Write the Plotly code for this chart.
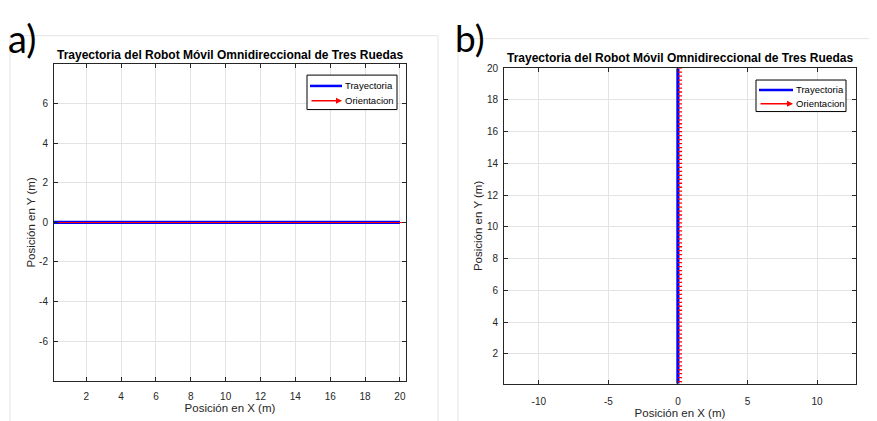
import math
import plotly.graph_objects as go

# ---------------- data ----------------
# panel a) straight path along X (y = 0), orientation 0 rad
traj_a_x = [0, 0.25, 0.5, 0.75, 1, 1.25, 1.5, 1.75, 2, 2.25, 2.5, 2.75, 3, 3.25, 3.5, 3.75,
            4, 4.25, 4.5, 4.75, 5, 5.25, 5.5, 5.75, 6, 6.25, 6.5, 6.75, 7, 7.25, 7.5, 7.75,
            8, 8.25, 8.5, 8.75, 9, 9.25, 9.5, 9.75, 10, 10.25, 10.5, 10.75, 11, 11.25, 11.5,
            11.75, 12, 12.25, 12.5, 12.75, 13, 13.25, 13.5, 13.75, 14, 14.25, 14.5, 14.75,
            15, 15.25, 15.5, 15.75, 16, 16.25, 16.5, 16.75, 17, 17.25, 17.5, 17.75, 18,
            18.25, 18.5, 18.75, 19, 19.25, 19.5, 19.75, 20]
traj_a_y = [0] * len(traj_a_x)
# panel b) straight path along Y (x = 0), orientation 0 rad
traj_b_y = list(traj_a_x)
traj_b_x = [0] * len(traj_b_y)
theta_deg = 0          # orientation of the robot along the path
arrow_len = 0.3        # quiver arrow length (m)

title_text = "Trayectoria del Robot Móvil Omnidireccional de Tres Ruedas"
xlabel = "Posición en X (m)"
ylabel = "Posición en Y (m)"
legend_labels = ["Trayectoria", "Orientacion"]
a_xticks = [2, 4, 6, 8, 10, 12, 14, 16, 18, 20]
a_yticks = [-6, -4, -2, 0, 2, 4, 6]
b_xticks = [-10, -5, 0, 5, 10]
b_yticks = [2, 4, 6, 8, 10, 12, 14, 16, 18, 20]


# ---------------- build ----------------
def quiver(xs, ys, ang, L):
    qx, qy = [], []
    for x, y in zip(xs, ys):
        qx += [x, x + L * math.cos(math.radians(ang)), None]
        qy += [y, y + L * math.sin(math.radians(ang)), None]
    return qx, qy


def lbl(v):
    return str(v).replace("\u2212", "-")


OFF = 8                      # browser body margin
W, H = 877 - OFF, 421 - OFF
BLUE = "#0000ff"
RED = "#ff0000"
FONT = "Liberation Sans, Arial, sans-serif"
TXT = "#262626"


def px(x):
    return (x - OFF) / W


def py(y):
    return 1 - (y - OFF) / H


fig = go.Figure()
qax, qay = quiver(traj_a_x, traj_a_y, theta_deg, arrow_len)
qbx, qby = quiver(traj_b_x, traj_b_y, theta_deg, arrow_len)

fig.add_trace(go.Scatter(x=traj_a_x, y=traj_a_y, mode="lines", name=legend_labels[0],
                         line=dict(color=BLUE, width=3.2), xaxis="x", yaxis="y"))
fig.add_trace(go.Scatter(x=qax, y=qay, mode="lines", name=legend_labels[1],
                         line=dict(color=RED, width=1.1), xaxis="x", yaxis="y"))
fig.add_trace(go.Scatter(x=traj_b_x, y=traj_b_y, mode="lines", name=legend_labels[0],
                         line=dict(color=BLUE, width=3.2), xaxis="x2", yaxis="y2"))
fig.add_trace(go.Scatter(x=qbx, y=qby, mode="lines", name=legend_labels[1],
                         line=dict(color=RED, width=1.3), xaxis="x2", yaxis="y2"))

axis_common = dict(showline=True, linecolor=TXT, linewidth=1, mirror="ticks",
                   ticks="inside", ticklen=4, tickcolor=TXT, showgrid=True,
                   gridcolor="#e3e3e3", gridwidth=1, zeroline=False,
                   tickfont=dict(family=FONT, size=10, color=TXT))
title_font = dict(family=FONT, size=11.5, color=TXT)

fig.update_layout(
    width=W, height=H, autosize=False,
    margin=dict(l=0, r=0, t=0, b=0),
    paper_bgcolor="white", plot_bgcolor="white",
    showlegend=False,
    xaxis=dict(domain=[px(54), px(406)], range=[0.15, 20.35],
               tickvals=a_xticks, ticktext=[lbl(v) for v in a_xticks], ticklabelstandoff=6,
               title=dict(text=xlabel, standoff=2, font=title_font),
               anchor="y", **axis_common),
    yaxis=dict(domain=[py(380), py(59)], range=[-8, 8],
               tickvals=a_yticks, ticktext=[lbl(v) for v in a_yticks], ticklabelstandoff=3,
               title=dict(text=ylabel, standoff=1, font=title_font),
               anchor="x", **axis_common),
    xaxis2=dict(domain=[px(504), px(856)], range=[-12.5, 12.8],
                tickvals=b_xticks, ticktext=[lbl(v) for v in b_xticks], ticklabelstandoff=8,
                title=dict(text=xlabel, standoff=2, font=title_font),
                anchor="y2", **axis_common),
    yaxis2=dict(domain=[py(383), py(63)], range=[0.13, 20],
                tickvals=b_yticks, ticktext=[lbl(v) for v in b_yticks], ticklabelstandoff=3,
                title=dict(text=ylabel, standoff=1, font=title_font),
                anchor="x2", **axis_common),
)

# panel frames (screenshot borders)
fig.add_shape(type="rect", xref="paper", yref="paper", x0=px(10), x1=px(438), y0=py(425), y1=py(30),
              line=dict(color="#e4e4e4", width=1), layer="below")
fig.add_shape(type="rect", xref="paper", yref="paper", x0=px(458), x1=px(882), y0=py(425), y1=py(33),
              line=dict(color="#e4e4e4", width=1), layer="below")


# manual legends (box, samples, labels)
def legend(x0, x1, y0, y1, r1, r2, s0, s1):
    fig.add_shape(type="rect", xref="paper", yref="paper", x0=px(x0), x1=px(x1),
                  y0=py(y1), y1=py(y0), line=dict(color="#000000", width=1),
                  fillcolor="white", layer="above")
    fig.add_shape(type="line", xref="paper", yref="paper", x0=px(s0), x1=px(s1),
                  y0=py(r1), y1=py(r1), line=dict(color=BLUE, width=2.5), layer="above")
    fig.add_annotation(xref="paper", yref="paper", axref="pixel", ayref="pixel",
                       x=px(s1), y=py(r2), ax=-(s1 - s0), ay=0, text="", showarrow=True,
                       arrowhead=2, arrowsize=0.8, arrowwidth=1.5, arrowcolor=RED)
    for lab, r in zip(legend_labels, (r1, r2)):
        fig.add_annotation(xref="paper", yref="paper", x=px(s1 + 1), y=py(r), text=lab,
                           xanchor="left", yanchor="middle", showarrow=False,
                           font=dict(family=FONT, size=9.5, color="#000000"))


legend(307, 397, 70, 105, 81, 96, 310, 342)
legend(756, 846, 75, 107, 85, 99, 759, 793)

# subplot titles
fig.add_annotation(text="<b>" + title_text + "</b>", xref="paper", yref="paper",
                   x=px(230), y=py(50), xanchor="center", yanchor="middle", showarrow=False,
                   font=dict(family=FONT, size=12, color="#000000"))
fig.add_annotation(text="<b>" + title_text + "</b>", xref="paper", yref="paper",
                   x=px(680), y=py(53), xanchor="center", yanchor="middle", showarrow=False,
                   font=dict(family=FONT, size=12, color="#000000"))
# panel letters
fig.add_annotation(text="a)", xref="paper", yref="paper", x=px(7), y=1,
                   xanchor="left", yanchor="top", showarrow=False, borderpad=0,
                   font=dict(family="Lato, Open Sans, sans-serif", size=38, color="#000000"))
fig.add_annotation(text="b)", xref="paper", yref="paper", x=px(454), y=1,
                   xanchor="left", yanchor="top", showarrow=False, borderpad=0,
                   font=dict(family="Lato, Open Sans, sans-serif", size=37, color="#000000"))

fig.write_html("out.html")
